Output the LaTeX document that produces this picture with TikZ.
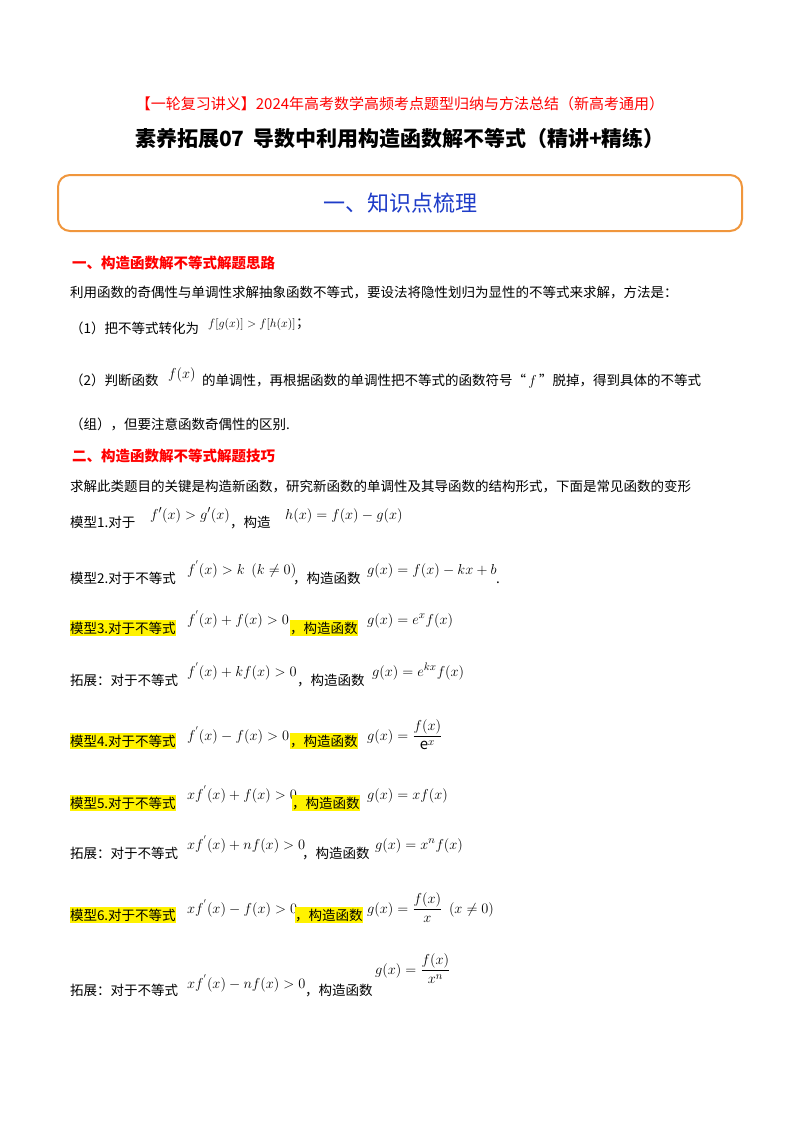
\documentclass[tikz,border=0pt]{standalone}
\usepackage{fontspec}
\setmainfont{Noto Sans CJK SC}
\begin{document}
\begin{tikzpicture}[x=1pt,y=-1pt,
  txt/.style={anchor=base west,inner sep=0pt,font=\fontsize{13.5}{15}\selectfont},
  hl/.style={txt,fill=yellow,inner ysep=2pt,outer sep=0pt},
  mth/.style={anchor=base west,inner sep=0pt,font=\fontsize{15}{17}\selectfont},
  red/.style={anchor=base west,inner sep=0pt,text=red,font=\fontsize{14.5}{16}\selectfont\bfseries}]
\useasboundingbox[fill=white] (0,0) rectangle (800,1132);
\node[anchor=base,inner sep=0pt,text=red,font=\fontsize{15}{17}\selectfont] (t1) at (400,109) {【一轮复习讲义】2024年高考数学高频考点题型归纳与方法总结（新高考通用）};
\node[anchor=base,inner sep=0pt,font=\fontsize{21}{24}\selectfont\bfseries] (t2) at (400,146) {素养拓展07\, 导数中利用构造函数解不等式（精讲+精练）};
\draw[draw={rgb,255:red,240;green,150;blue,60},line width=2pt,rounded corners=12pt] (58,175) rectangle (742,231);
\node[anchor=base,inner sep=0pt,text={rgb,255:red,30;green,60;blue,200},font=\fontsize{22}{24}\selectfont] (bx) at (400,211) {一、知识点梳理};
\node[red] (h1) at (72,268) {一、构造函数解不等式解题思路};
\node[txt] (p1) at (70,297) {利用函数的奇偶性与单调性求解抽象函数不等式，要设法将隐性划归为显性的不等式来求解，方法是：};
\node[txt] (p2) at (70,333) {（1）把不等式转化为};
\node[mth,font=\fontsize{13}{15}\selectfont] (m2) at (208,327) {$f\bigl[g(x)\bigr]>f\bigl[h(x)\bigr]$};
\node[txt] (p2b) at (m2.base east) {；};
\node[txt] (p3) at (70,385) {（2）判断函数};
\node[mth] (m3) at (168,378) {$f(x)$};
\node[txt] (p3b) at (202,385) {的单调性，再根据函数的单调性把不等式的函数符号“\,$f$\,”脱掉，得到具体的不等式};
\node[txt] (p4) at (70,429) {（组），但要注意函数奇偶性的区别.};
\node[red] (h2) at (72,461) {二、构造函数解不等式解题技巧};
\node[txt] (p5) at (70,491) {求解此类题目的关键是构造新函数，研究新函数的单调性及其导函数的结构形式，下面是常见函数的变形};
\node[txt] (a1) at (70,527) {模型1.对于};
\node[mth] (b1) at (150,519) {$f'(x)>g'(x)$};
\node[txt] (c1) at (230,527) {，构造};
\node[mth] (d1) at (285,519) {$h(x)=f(x)-g(x)$};
\node[txt] (a2) at (70,583) {模型2.对于不等式};
\node[mth] (b2) at (187,574) {$f^{'}(x)>k\ \ (k\neq 0)$};
\node[txt] (c2) at (293,583) {，构造函数};
\node[mth] (d2) at (367,574) {$g(x)=f(x)-kx+b$};
\node[txt] (e2) at (496,583) {.};
\node[hl] (a3) at (70,633) {模型3.对于不等式};
\node[mth] (b3) at (187,624) {$f^{'}(x)+f(x)>0$};
\node[hl] (c3) at (290,633) {，构造函数};
\node[mth] (d3) at (367,624) {$g(x)=e^{x}f(x)$};
\node[txt] (a4) at (70,685) {拓展：对于不等式};
\node[mth] (b4) at (187,676) {$f^{'}(x)+kf(x)>0$};
\node[txt] (c4) at (297,685) {，构造函数};
\node[mth] (d4) at (372,676) {$g(x)=e^{kx}f(x)$};
\node[hl] (a5) at (70,746) {模型4.对于不等式};
\node[mth] (b5) at (187,740) {$f^{'}(x)-f(x)>0$};
\node[hl] (c5) at (290,746) {，构造函数};
\node[mth] (d5) at (367,740) {$g(x)=\displaystyle\frac{f(x)}{\mathrm{e}^{x}}$};
\node[hl] (a6) at (70,808) {模型5.对于不等式};
\node[mth] (b6) at (187,799) {$xf^{'}(x)+f(x)>0$};
\node[hl] (c6) at (292,808) {，构造函数};
\node[mth] (d6) at (367,799) {$g(x)=xf(x)$};
\node[txt] (a7) at (70,858) {拓展：对于不等式};
\node[mth] (b7) at (187,849) {$xf^{'}(x)+nf(x)>0$};
\node[txt] (c7) at (302,858) {，构造函数};
\node[mth] (d7) at (375,849) {$g(x)=x^{n}f(x)$};
\node[hl] (a8) at (70,920) {模型6.对于不等式};
\node[mth] (b8) at (187,913) {$xf^{'}(x)-f(x)>0$};
\node[hl] (c8) at (295,920) {，构造函数};
\node[mth] (d8) at (367,913) {$g(x)=\displaystyle\frac{f(x)}{x}\ \ (x\neq 0)$};
\node[txt] (a9) at (70,995) {拓展：对于不等式};
\node[mth] (b9) at (187,988) {$xf^{'}(x)-nf(x)>0$};
\node[txt] (c9) at (305,995) {，构造函数};
\node[mth] (d9) at (375,974) {$g(x)=\displaystyle\frac{f(x)}{x^{n}}$};
\end{tikzpicture}
\end{document}
